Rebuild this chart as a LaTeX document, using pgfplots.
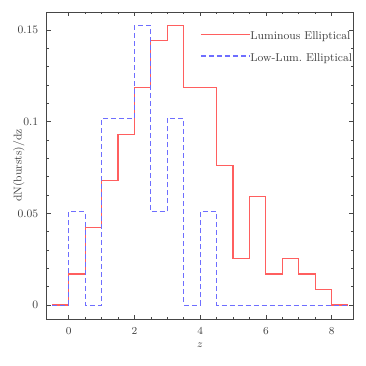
\documentclass[border=0pt]{standalone}
\usepackage{pgfplots}
\pgfplotsset{compat=1.18}
\definecolor{redline}{RGB}{255,95,95}
\definecolor{blueline}{RGB}{110,110,255}
\definecolor{framec}{RGB}{70,70,70}
\begin{document}
\begin{tikzpicture}
\fontsize{8.5}{10}\selectfont
\useasboundingbox (-35pt,-35.25pt) rectangle (239.5pt,239.25pt);
\begin{axis}[
  at={(0,0)}, anchor=south west,
  scale only axis,
  width=230pt, height=230.25pt,
  xmin=-0.67, xmax=8.66,
  ymin=-0.0076, ymax=0.1598,
  xtick={0,2,4,6,8},
  minor x tick num=3,
  ytick={0,0.05,0.1,0.15},
  yticklabels={0,0.05,0.1,0.15},
  minor y tick num=4,
  tick align=inside,
  major tick length=3pt,
  minor tick length=1.6pt,
  axis line style={framec, line width=0.5pt},
  every tick/.style={framec, line width=0.45pt},
  tick label style={text=black!75, font=\fontsize{8.5}{10}\selectfont},
  xticklabel style={anchor=north, inner sep=0pt, yshift=-6.2pt},
  yticklabel style={anchor=east, inner sep=0pt, xshift=-6.1pt},
  xlabel={$z$},
  ylabel={dN(bursts)/dz},
  label style={text=black!75, font=\fontsize{8.5}{10}\selectfont},
  xlabel style={at={(axis description cs:0.5,-0.0847)}, anchor=center},
  ylabel style={at={(axis description cs:-0.0905,0.5)}, anchor=center},
  legend style={draw=none, fill=none, at={(axis description cs:0.5,0.8832)}, anchor=west,
     inner sep=0pt, row sep=8.2pt, text=black!75,
     nodes={inner sep=0pt, text height=6pt, text depth=2pt, font=\fontsize{8.5}{10}\selectfont}},
  legend cell align=left,
  legend image code/.code={\draw[#1] (0pt,2pt) -- (36.75pt,2pt);},
]
\addplot[const plot, redline, line width=0.85pt] coordinates {
(-0.5,0) (0,0.01695) (0.5,0.04237) (1,0.06780) (1.5,0.09322) (2,0.11864)
(2.5,0.14407) (3,0.15254) (3.5,0.11864) (4,0.11864) (4.5,0.07627)
(5,0.02542) (5.5,0.05932) (6,0.01695) (6.5,0.02542) (7,0.01695)
(7.5,0.00847) (8,0) (8.5,0)};
\addlegendentry{Luminous Elliptical}
\addplot[const plot, blueline, line width=0.8pt, dash pattern=on 3.75pt off 2.25pt] coordinates {
(-0.5,0) (0,0.0508) (0.5,0) (1,0.1017) (1.5,0.1017) (2,0.1525)
(2.5,0.0508) (3,0.1017) (3.5,0) (4,0.0508) (4.5,0) (5,0) (5.5,0)
(6,0) (6.5,0) (7,0) (7.5,0) (8,0) (8.5,0)};
\addlegendentry{Low-Lum.\ Elliptical}
\end{axis}
\end{tikzpicture}
\end{document}
